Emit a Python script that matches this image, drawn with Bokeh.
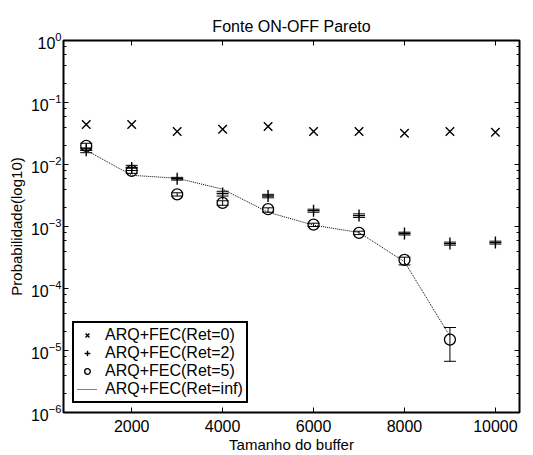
from bokeh.plotting import figure
from bokeh.models import (ColumnDataSource, Whisker, LinearAxis, Legend, LegendItem, Title,
                          Range1d, FixedTicker, LogTicker, CustomJSTickFormatter)
from bokeh.embed import file_html
from bokeh.resources import INLINE

buffer_sizes = [1000, 2000, 3000, 4000, 5000, 6000, 7000, 8000, 9000, 10000]
ret0 = [0.044, 0.044, 0.034, 0.037, 0.041, 0.034, 0.034, 0.032, 0.034, 0.033]
ret2 = [0.017, 0.0088, 0.0059, 0.0034, 0.0031, 0.0018, 0.0015, 0.00077, 0.00053, 0.00055]
ret5_x = [1000, 2000, 3000, 4000, 5000, 6000, 7000, 8000, 9000]
ret5 = [0.020, 0.0079, 0.0033, 0.0024, 0.0019, 0.00107, 0.00079, 0.00029, 1.5e-5]
ret5_lo = [0.018, 0.0072, 0.0031, 0.0022, 0.0017, 0.00100, 0.00074, 0.00024, 6.7e-6]
ret5_hi = [0.022, 0.0090, 0.0035, 0.0026, 0.0020, 0.00113, 0.00084, 0.00032, 2.35e-5]
retinf_x = [1000, 2000, 3000, 4000, 5000, 6000, 7000, 8000, 9000]
retinf = [0.017, 0.0067, 0.0060, 0.0040, 0.0017, 0.00105, 0.00080, 0.00027, 1.7e-5]
ret2_lo = [0.0155, 0.0080, 0.0056, 0.0031, 0.0029, 0.0017, 0.0014, 0.00073, 0.00050, 0.00052]
ret2_hi = [0.0185, 0.0097, 0.0062, 0.0037, 0.0033, 0.0019, 0.0016, 0.00081, 0.00056, 0.00058]
x_ticks = [2000, 4000, 6000, 8000, 10000]

FONT = "Liberation Sans"

p = figure(frame_width=456, frame_height=372, output_backend="svg", toolbar_location=None,
           y_axis_type="log", x_range=Range1d(500, 10530), y_range=Range1d(1e-6, 1),
           min_border_left=63, min_border_right=4,
           min_border_top=40, min_border_bottom=36)
p.title = Title(text="Fonte ON-OFF Pareto", align="center", text_font=FONT,
                text_font_style="normal", text_font_size="16px", text_color="black",
                offset=0, standoff=11)
p.grid.visible = False
p.outline_line_color = "black"
p.outline_line_width = 2
p.background_fill_color = "white"
p.border_fill_color = "white"

for ax in (p.xaxis[0], p.yaxis[0]):
    ax.axis_line_color = None
    ax.major_tick_in = 5
    ax.major_tick_out = 0
    ax.minor_tick_in = 3
    ax.minor_tick_out = 0
    ax.major_label_text_font = FONT
    ax.major_label_text_font_size = "16px"
    ax.major_label_text_color = "black"
    ax.axis_label_text_font = FONT
    ax.axis_label_text_font_size = "15px"
    ax.axis_label_text_font_style = "normal"
    ax.axis_label_text_color = "black"
p.xaxis[0].ticker = FixedTicker(ticks=x_ticks)
p.xaxis[0].minor_tick_in = 0
p.xaxis[0].axis_label = "Tamanho do buffer"
p.xaxis[0].major_label_standoff = 7
p.xaxis[0].axis_label_standoff = 1
p.yaxis[0].ticker = LogTicker(desired_num_ticks=7)
p.yaxis[0].axis_label = "Probabilidade(log10)"
p.yaxis[0].major_label_standoff = 2
p.yaxis[0].axis_label_standoff = 3

blank = CustomJSTickFormatter(code="return ''")
ra = LinearAxis(ticker=LogTicker(desired_num_ticks=7), formatter=blank, axis_line_color=None,
                major_tick_in=5, major_tick_out=0, minor_tick_in=3, minor_tick_out=0,
                major_label_standoff=0, major_label_text_font_size="1px")
ta = LinearAxis(ticker=FixedTicker(ticks=x_ticks), formatter=blank, axis_line_color=None,
                major_tick_in=5, major_tick_out=0, minor_tick_in=0, minor_tick_out=0,
                major_label_standoff=0, major_label_text_font_size="1px")
p.add_layout(ra, "right")
p.add_layout(ta, "above")

s2 = ColumnDataSource(dict(x=buffer_sizes, lo=ret2_lo, hi=ret2_hi))
s5 = ColumnDataSource(dict(x=ret5_x, lo=ret5_lo, hi=ret5_hi))
for s in (s2, s5):
    w = Whisker(source=s, base="x", lower="lo", upper="hi", line_color="black", line_width=1)
    w.upper_head.size = 12
    w.lower_head.size = 12
    w.upper_head.line_color = "black"
    w.lower_head.line_color = "black"
    p.add_layout(w)

r_inf = p.line(retinf_x, retinf, line_color="black", line_dash="1 1", line_width=1)
r0 = p.scatter(buffer_sizes, ret0, marker="x", size=12, line_color="black", line_width=1.4)
r2 = p.scatter(buffer_sizes, ret2, marker="cross", size=12, line_color="black", line_width=1.4)
r5 = p.scatter(ret5_x, ret5, marker="circle", size=11, line_color="black", fill_color=None, line_width=1.3)

legend = Legend(items=[
    LegendItem(label="ARQ+FEC(Ret=0)", renderers=[r0]),
    LegendItem(label="ARQ+FEC(Ret=2)", renderers=[r2]),
    LegendItem(label="ARQ+FEC(Ret=5)", renderers=[r5]),
    LegendItem(label="ARQ+FEC(Ret=inf)", renderers=[r_inf]),
], location="bottom_left")
legend.label_text_font = FONT
legend.label_text_font_size = "16px"
legend.label_text_color = "black"
legend.label_height = 14
legend.glyph_height = 14
legend.glyph_width = 20
legend.spacing = 0
legend.padding = 3
legend.margin = 9
legend.border_line_color = "black"
legend.border_line_alpha = 1.0
legend.border_line_width = 2
legend.label_standoff = 8
p.add_layout(legend)

open("out.html", "w").write(file_html(p, INLINE))
